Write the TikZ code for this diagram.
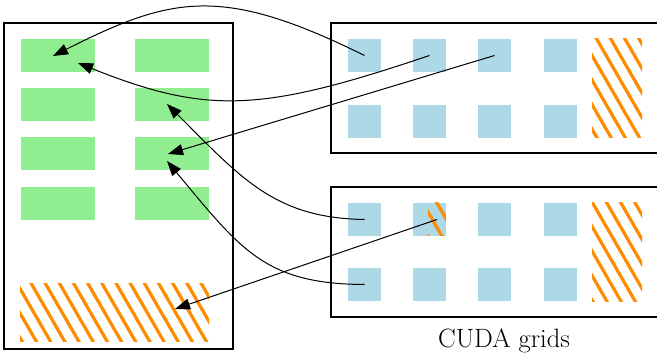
\documentclass[tikz,border=0pt]{standalone}
\usetikzlibrary{arrows.meta}

\definecolor{cellgreen}{HTML}{90EE90}
\definecolor{cellblue}{HTML}{ADD8E6}
\definecolor{hatchorange}{HTML}{FF8C00}

\tikzset{
  frame/.style={draw=black, line width=1.2pt, inner sep=0pt, outer sep=0pt},
  greencell/.style={fill=cellgreen, draw=none, inner sep=0pt, outer sep=0pt,
    minimum width=74pt, minimum height=33pt},
  bluecell/.style={fill=cellblue, draw=none, inner sep=0pt, outer sep=0pt,
    minimum size=33pt},
  hatcharea/.style={draw=none, inner sep=0pt, outer sep=0pt},
  hatchline/.style={draw=hatchorange, line width=3.2pt},
  link/.style={draw=black, line width=1pt,
    -{Triangle[length=15pt,width=11pt]}},
}

% diagonal orange stripes clipped to a node: #1 node, #2 top y, #3 bottom y, #4 x of a stripe on the top edge
\newcommand\orangestripes[4]{%
  \begin{scope}
    \clip (#1.north west) rectangle (#1.south east);
    \foreach \k in {-6,...,15}
      \draw[hatchline] ({#4+14.17*\k-2.887},#2-5) -- ++({(#3-#2+10)*0.57735},{#3-#2+10});
  \end{scope}}

\begin{document}
\begin{tikzpicture}[x=1pt, y=-1pt]
\useasboundingbox (0,0) rectangle (657,355);

% outer frames
\node[frame, minimum width=229pt, minimum height=326pt] (mem) at (118.5,186) {};
\node[frame, minimum width=327pt, minimum height=130pt] (gridA) at (494.5,88) {};
\node[frame, minimum width=327pt, minimum height=130pt] (gridB) at (494.5,252) {};

% memory blocks
\node[greencell] (g11) at (58,55.5) {};
\node[greencell] (g12) at (172,55.5) {};
\node[greencell] (g21) at (58,104.5) {};
\node[greencell] (g22) at (172,104.5) {};
\node[greencell] (g31) at (58,153.5) {};
\node[greencell] (g32) at (172,153.5) {};
\node[greencell] (g41) at (58,203.5) {};
\node[greencell] (g42) at (172,203.5) {};

% thread blocks of the first grid
\node[bluecell] (b11) at (364.5,55.5) {};
\node[bluecell] (b12) at (429.5,55.5) {};
\node[bluecell] (b13) at (494.5,55.5) {};
\node[bluecell] (b14) at (560.5,55.5) {};
\node[bluecell] (b21) at (364.5,121.5) {};
\node[bluecell] (b22) at (429.5,121.5) {};
\node[bluecell] (b23) at (494.5,121.5) {};
\node[bluecell] (b24) at (560.5,121.5) {};

% thread blocks of the second grid
\node[bluecell] (c11) at (364.5,219.5) {};
\node[bluecell] (c12) at (429.5,219.5) {};
\node[bluecell] (c13) at (494.5,219.5) {};
\node[bluecell] (c14) at (560.5,219.5) {};
\node[bluecell] (c21) at (364.5,284.5) {};
\node[bluecell] (c22) at (429.5,284.5) {};
\node[bluecell] (c23) at (494.5,284.5) {};
\node[bluecell] (c24) at (560.5,284.5) {};

% hatched areas
\node[hatcharea, minimum width=189pt, minimum height=58pt] (h0) at (114.5,313) {};
\node[hatcharea, minimum width=50pt, minimum height=99pt] (h1) at (617,88.5) {};
\node[hatcharea, minimum width=50pt, minimum height=99pt] (h2) at (617,252.5) {};
\node[hatcharea, minimum width=18pt, minimum height=33pt] (hs) at (437,219.5) {};
\orangestripes{h0}{284}{342}{31.5}
\orangestripes{h1}{39}{138}{610.8}
\orangestripes{h2}{203}{302}{606.8}
\orangestripes{hs}{203}{236}{437}

% arrow targets
\coordinate (t1) at (53,56);
\coordinate (t2) at (78,63);
\coordinate (t3) at (168,154);
\coordinate (t4) at (167,104);
\coordinate (t5) at (167,161);
\coordinate (t6) at (175,309);

% mappings
\draw[link] (b11.center) .. controls (222,-15) and (172,-4) .. (t1);
\draw[link] (b12.center) .. controls (262,112) and (208,115) .. (t2);
\draw[link] (b13.center) -- (t3);
\draw[link] (c11.center) .. controls (275,218) and (242,179) .. (t4);
\draw[link] (c21.center) .. controls (265,284) and (241,250) .. (t5);
\draw[link] (hs.center) -- (t6);

\node[anchor=base, inner sep=0pt, font=\fontsize{26.5}{30}\selectfont] (lbl) at (504,347.5) {CUDA grids};
\end{tikzpicture}
\end{document}
